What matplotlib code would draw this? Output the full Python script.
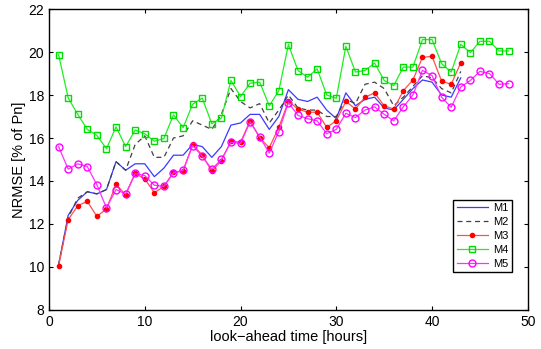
import numpy as np
import matplotlib
matplotlib.use("Agg")
import matplotlib.pyplot as plt

plt.rcParams['font.family'] = ['Liberation Sans', 'DejaVu Sans']

# look-ahead hours
hours_m4_m5 = np.arange(1, 49)
hours_m1_m3 = np.arange(1, 44)

m1 = [10.1, 12.4, 13.1, 13.5, 13.4, 13.6, 14.9, 14.5, 14.8, 14.8,
      14.2, 14.6, 15.2, 15.2, 15.7, 15.6, 15.1, 15.6, 16.6, 16.7,
      17.1, 17.1, 16.4, 17.0, 18.25, 17.8, 17.7, 17.9, 17.3, 16.9,
      18.1, 17.5, 17.8, 17.9, 17.4, 17.3, 17.8, 18.3, 18.7, 18.6,
      18.0, 17.9, 18.8]
m2 = [10.1, 12.3, 13.2, 13.5, 13.4, 13.6, 14.9, 14.5, 15.7, 16.1,
      15.1, 15.1, 16.0, 16.1, 16.8, 16.6, 16.4, 17.1, 18.3, 17.7,
      17.4, 17.6, 16.7, 17.3, 18.0, 17.4, 17.3, 17.3, 17.0, 17.0,
      17.8, 17.6, 18.5, 18.6, 18.3, 17.5, 17.9, 18.4, 18.9, 18.8,
      18.3, 18.1, 19.1]
m3 = [10.05, 12.2, 12.85, 13.05, 12.35, 12.7, 13.85, 13.35, 14.35, 14.1,
      13.45, 13.75, 14.4, 14.45, 15.7, 15.2, 14.45, 14.95, 15.85, 15.8,
      16.8, 16.0, 15.55, 16.5, 17.7, 17.35, 17.2, 17.2, 16.5, 16.8,
      17.7, 17.35, 17.9, 18.1, 17.5, 17.35, 18.2, 18.7, 19.75, 19.8,
      18.65, 18.5, 19.5]
m4 = [19.88, 17.87, 17.1, 16.4, 16.12, 15.5, 16.52, 15.6, 16.37, 16.2,
      15.85, 15.98, 17.08, 16.48, 17.57, 17.86, 16.66, 16.93, 18.68, 17.93,
      18.55, 18.6, 17.5, 18.2, 20.35, 19.14, 18.83, 19.22, 18.0, 17.85,
      20.27, 19.07, 19.14, 19.49, 18.68, 18.44, 19.3, 19.3, 20.58, 20.58,
      19.46, 19.07, 20.36, 19.97, 20.5, 20.5, 20.05, 20.05]
m5 = [15.6, 14.55, 14.8, 14.67, 13.82, 12.75, 13.6, 13.4, 14.35, 14.25,
      13.8, 13.75, 14.38, 14.5, 15.65, 15.15, 14.55, 15.0, 15.8, 15.75,
      16.75, 16.05, 15.3, 16.3, 17.65, 17.05, 16.9, 16.8, 16.2, 16.4,
      17.15, 16.95, 17.3, 17.45, 17.1, 16.8, 17.45, 18.0, 19.15, 18.9,
      17.9, 17.43, 18.37, 18.68, 19.1, 19.0, 18.5, 18.53]

fig = plt.figure(figsize=(5.41, 3.49), dpi=100)
ax = fig.add_axes([0.0906, 0.112, 0.885, 0.862])

ax.plot(hours_m1_m3, m1, color='#3a3aff', lw=0.9, label='M1')
ax.plot(hours_m1_m3, m2, color='#404040', lw=0.9, ls=(0, (4, 3)), label='M2')
ax.plot(hours_m1_m3, m3, color='#ff5050', lw=0.9, marker='o', ms=3,
        mfc='#ff0000', mec='#ff0000', label='M3')
ax.plot(hours_m4_m5, m4, color='#20ee20', lw=0.9, marker='s', ms=4.5,
        mfc='none', mec='#00dd00', label='M4')
ax.plot(hours_m4_m5, m5, color='#ff30ff', lw=0.9, marker='o', ms=5,
        mfc='none', mec='#ff00ff', label='M5')

ax.set_xlim(0, 50)
ax.set_ylim(8, 22)
ax.set_xticks(np.arange(0, 51, 10))
ax.set_yticks(np.arange(8, 23, 2))
ax.tick_params(direction='in', top=True, right=True, labelsize=10, length=3)
for sp in ax.spines.values():
    sp.set_linewidth(1.0)

ax.set_xlabel('look\u2212ahead time [hours]', fontsize=10.5, labelpad=1)
ax.set_ylabel('NRMSE [% of Pn]', fontsize=10.5, labelpad=2)

leg = ax.legend(loc='lower right', bbox_to_anchor=(0.967, 0.126),
                borderaxespad=0, fontsize=8, fancybox=False, framealpha=1,
                edgecolor='black', handlelength=2.8, handletextpad=0.5,
                labelspacing=0.35, borderpad=0.3)
leg.get_frame().set_linewidth(1.0)

fig.savefig('out.png', dpi=100)
